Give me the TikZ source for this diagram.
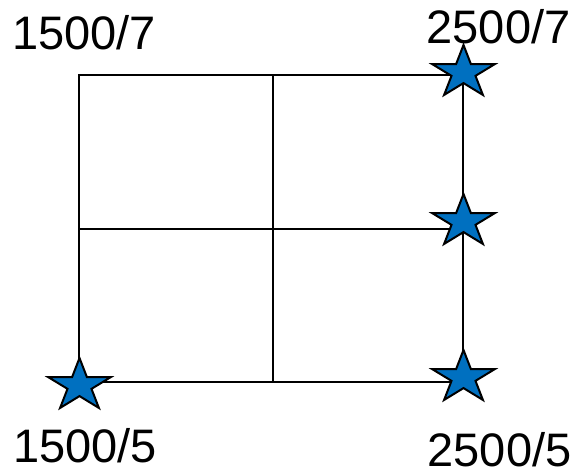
\documentclass[tikz,border=0pt]{standalone}
\usepackage{fontspec}
\setmainfont{Liberation Sans}
\definecolor{starblue}{RGB}{0,112,192}
\tikzset{
  gridline/.style={line width=2pt, black},
  starshape/.style={fill=starblue, draw=black, line width=2pt, line join=miter},
  lbl/.style={anchor=base west, inner sep=0pt, text depth=0pt, font=\fontsize{47}{50}\selectfont}
}
\newcommand\drawstar[1]{%
  \draw[starshape, shift={(#1)}] (270:33 and 27.6)
    \foreach \k in {0,...,3}{ -- (306+72*\k:12.6 and 10.5) -- (342+72*\k:33 and 27.6)}
    -- (594:12.6 and 10.5) -- cycle;}
\begin{document}
\begin{tikzpicture}[x=1pt,y=-1pt]
\useasboundingbox (0,0) rectangle (575,469);
% grid corners
\coordinate (tl) at (79,75);
\coordinate (tm) at (272.5,75);
\coordinate (tr) at (463,75);
\coordinate (ml) at (79,229);
\coordinate (mm) at (272.5,229);
\coordinate (mr) at (463,229);
\coordinate (bl) at (79,382);
\coordinate (bm) at (272.5,382);
\coordinate (br) at (463,382);
\draw[gridline] (tl) -- (tr) -- (br) -- (bl) -- cycle;
\draw[gridline] (tm) -- (bm);
\draw[gridline] (ml) -- (mr);
% star centres
\coordinate (s1) at (463.5,72.6);
\coordinate (s2) at (463.5,221.6);
\coordinate (s3) at (463.5,377.6);
\coordinate (s4) at (79.5,385.6);
\drawstar{s1}
\drawstar{s2}
\drawstar{s3}
\drawstar{s4}
% labels
\node[lbl] (l1) at (12,49) {1500/7};
\node[lbl] (l2) at (426.5,43) {2500/7};
\node[lbl] (l3) at (13,462) {1500/5};
\node[lbl] (l4) at (427.5,466) {2500/5};
\end{tikzpicture}
\end{document}
